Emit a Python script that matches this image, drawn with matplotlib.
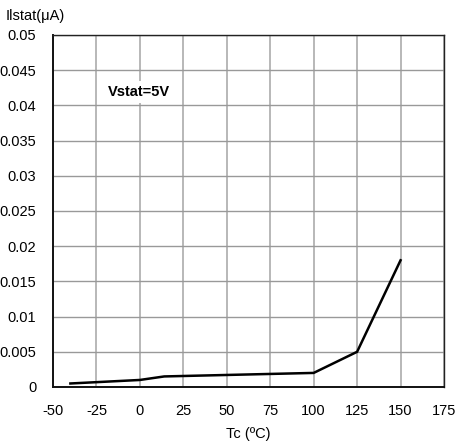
import matplotlib
matplotlib.use("Agg")
import matplotlib.pyplot as plt

plt.rcParams['font.family'] = ['Liberation Sans', 'DejaVu Sans']

# Standby current vs case temperature
temp_c = [-40, 0, 14, 100, 125, 150]
istat_ua = [0.0005, 0.001, 0.0015, 0.002, 0.005, 0.018]

x_ticks = [-50, -25, 0, 25, 50, 75, 100, 125, 150, 175]
y_ticks = [0, 0.005, 0.01, 0.015, 0.02, 0.025, 0.03, 0.035, 0.04, 0.045, 0.05]
y_tick_labels = ['0', '0.005', '0.01', '0.015', '0.02', '0.025', '0.03',
                 '0.035', '0.04', '0.045', '0.05']

FS = 10.5

fig = plt.figure(figsize=(4.58, 4.45), dpi=100)
ax = fig.add_axes([53 / 458, 1 - 387 / 445, 391 / 458, 352 / 445])

ax.set_xlim(-50, 175)
ax.set_ylim(0, 0.05)
ax.set_xticks(x_ticks)
ax.set_xticklabels([str(t) for t in x_ticks])
ax.set_yticks(y_ticks)
ax.set_yticklabels(y_tick_labels)

ax.xaxis.grid(True, color='#b8b8b8', linewidth=1.4)
ax.yaxis.grid(True, color='#999999', linewidth=1.0)
ax.set_axisbelow(True)

for side in ['top', 'right']:
    ax.spines[side].set_linewidth(1.0)
    ax.spines[side].set_color('#222222')
for side in ['left', 'bottom']:
    ax.spines[side].set_linewidth(1.4)
    ax.spines[side].set_color('#111111')

ax.tick_params(axis='both', length=0, labelsize=FS, colors='black')
ax.tick_params(axis='x', pad=12)
ax.tick_params(axis='y', pad=12)

ax.plot(temp_c, istat_ua, color='black', linewidth=1.8, solid_joinstyle='miter')

ax.text(-18.3, 0.0419, 'Vstat=5V', fontsize=FS, fontweight='bold',
        va='center', ha='left',
        bbox=dict(facecolor='white', edgecolor='none', pad=3))

ax.set_xlabel('Tc (ºC)', fontsize=FS, labelpad=7)
fig.text(6 / 458, 1 - 16 / 445, 'Ilstat(μA)', fontsize=FS, va='center', ha='left')

fig.savefig('out.png', dpi=100, facecolor='white')
